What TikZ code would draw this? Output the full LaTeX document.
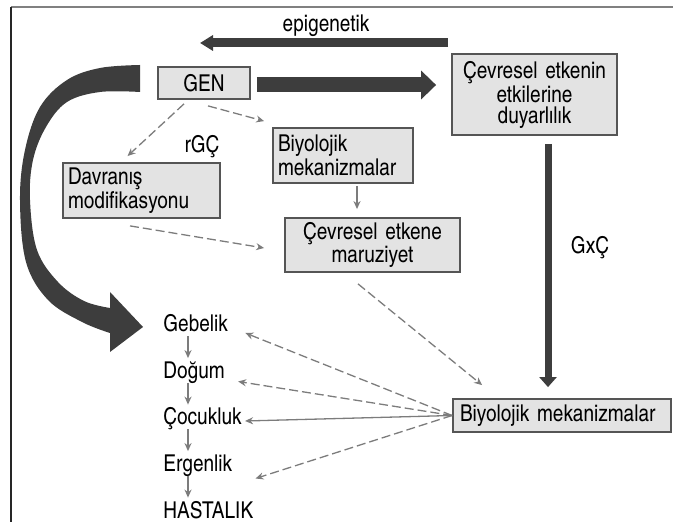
\documentclass[tikz,border=0pt]{standalone}
\usepackage{fontspec}
\setmainfont{texgyreheroscn}[Extension=.otf,UprightFont=*-regular,BoldFont=*-bold]
\usetikzlibrary{arrows.meta}
\definecolor{boxgray}{HTML}{E3E3E3}
\definecolor{boxline}{HTML}{555555}
\definecolor{darkarrow}{HTML}{3D3D3D}
\definecolor{thingray}{HTML}{7C7C7C}
\tikzset{
  txt/.style={font=\fontsize{11.6}{10.5}\selectfont, inner sep=0pt},
  panel/.style={txt, draw=boxline, fill=boxgray, line width=0.9pt, inner xsep=2.5pt, inner ysep=1pt},
  bigarrow/.style n args={3}{draw=darkarrow, line width=#1, -{Triangle[length=#2,width=#3]}},
  thinarrow/.style={draw=thingray, line width=0.65pt, -{Stealth[length=4pt,width=3.5pt]}},
  dashline/.style={thinarrow, dash pattern=on 4.5pt off 2pt},
  fullline/.style={thinarrow},
  stage/.style={txt, anchor=base west, text height=8pt, text depth=2pt}
}

\begin{document}
\begin{tikzpicture}[x=0.5pt,y=-0.5pt]
  \useasboundingbox (0,0) rectangle (673,522);
  \draw[line width=0.6pt, draw=gray] (673,7) -- (11,7);
  \draw[line width=0.7pt, draw=black!85] (11,7) -- (11,522);

  % boxes
  \node[panel, text width=41pt, align=center, minimum height=16pt] (gen) at (204,83) {GEN};
  \node[panel, text width=77.5pt, align=center, minimum height=40.5pt] (duyar) at (534.5,94.5)
    {Çevresel etkenin\\etkilerine\\duyarlılık};
  \node[panel, text width=65pt, align=left, minimum height=27.5pt] (biyoUst) at (343,155.5)
    {Biyolojik\\mekanizmalar};
  \node[panel, text width=73.5pt, align=left, minimum height=27.5pt] (davranis) at (141.5,190.5)
    {Davranış\\modifikasyonu};
  \node[panel, text width=82.5pt, align=center, minimum height=27pt] (maruz) at (372.5,245)
    {Çevresel etkene\\maruziyet};
  \node[panel, text width=102pt, inner xsep=3.5pt, align=left, minimum height=16.5pt] (biyoAlt) at (562,415.5)
    {Biyolojik mekanizmalar};

  \node[txt] (epi) at (326,26) {epigenetik};
  \node[txt] (rgc) at (202,147) {rGÇ};
  \node[txt] (gxc) at (590,248) {GxÇ};

  % life stages
  \foreach \ad [count=\i from 0] in {Gebelik,Doğum,Çocukluk,Ergenlik,HASTALIK}{%
    \node[stage] (s\i) at (163,{332+46.5*\i}) {\ad};
  }
  \foreach \i [evaluate=\i as \j using int(\i+1)] in {0,...,3}{%
    \draw[fullline, shorten >=2pt] ([xshift=12.5pt]s\i.south west) -- ([xshift=12.5pt]s\j.north west);
  }

  % thick arrows
  \coordinate (epiA) at (448,43);
  \coordinate (epiB) at (200,43);
  \draw[bigarrow={4.5pt}{6.5pt}{7.5pt}] (epiA) -- (epiB);
  \draw[bigarrow={7.5pt}{7.5pt}{14pt}, shorten <=3pt, shorten >=7.5pt]
    ([yshift=-1pt]gen.east) -- ([yshift=-1pt]gen.east -| duyar.west);
  \draw[bigarrow={3.5pt}{5pt}{8.5pt}, shorten <=4pt, shorten >=5.5pt]
    ([xshift=6.75pt]duyar.south) -- ([xshift=-7pt]biyoAlt.north);

  % curved arrow
  \fill[darkarrow] plot[smooth, tension=0.6] coordinates {(140,65) (100,68) (67,80) (40,107) (25,150)
      (20,200) (26,262) (48,300) (82,322) (110,333)}
    -- (110,352) -- (143,327) -- (110,292)
    -- plot[smooth, tension=0.6] coordinates {(110,308) (84,301) (58,282) (37,250) (30,200)
      (33,160) (46,127) (67,102) (100,92) (140,92)} -- cycle;

  % thin arrows
  \draw[dashline] ([xshift=-10pt,yshift=-2pt]gen.south) -- ([xshift=-7pt,yshift=3pt]davranis.north);
  \draw[dashline] ([xshift=2pt,yshift=-3pt]gen.south) -- ([xshift=-4pt,yshift=3pt]biyoUst.north west);
  \draw[dashline] ([xshift=-5.75pt,yshift=-3.5pt]davranis.south) -- ([xshift=-10pt,yshift=-1.5pt]maruz.west);
  \draw[fullline] ([xshift=7pt,yshift=-1pt]biyoUst.south) -- ([xshift=-7.75pt,yshift=4pt]maruz.north);
  \draw[dashline] ([xshift=-7.25pt,yshift=-5.5pt]maruz.south) -- ([xshift=15pt,yshift=6.5pt]biyoAlt.north west);
  \foreach \s/\dx/\dy/\pat in {s0/8.5/-3.5/dashline, s1/6.5/-4.5/dashline, s2/1.5/-1/fullline, s3/11.5/-6.5/dashline}{%
    \draw[\pat] (biyoAlt.west) -- ([xshift=\dx pt,yshift=\dy pt]\s.east);
  }
\end{tikzpicture}
\end{document}
